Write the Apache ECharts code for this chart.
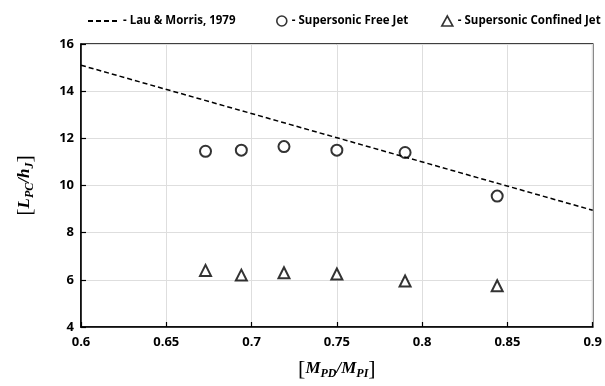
<!DOCTYPE html>
<html>
<head>
<meta charset="utf-8">
<script src="https://cdn.jsdelivr.net/npm/echarts@6/dist/echarts.min.js"></script>
<style>
html, body { margin: 0; padding: 0; background: #fff; }
#main { width: 605px; height: 386px; }
</style>
</head>
<body>
<div id="main"></div>
<script>
// data
var freeJetX = [0.673, 0.694, 0.719, 0.750, 0.790, 0.844];
var freeJetY = [11.45, 11.5, 11.65, 11.5, 11.4, 9.55];
var confinedX = [0.673, 0.694, 0.719, 0.750, 0.790, 0.844];
var confinedY = [6.4, 6.2, 6.3, 6.25, 5.95, 5.75];
var lauMorrisX = [0.6, 0.9];
var lauMorrisY = [15.1, 8.95];

function pairs(xs, ys) {
	return xs.map(function (x, i) { return [x, ys[i]]; });
}

var font = 'Open Sans';
var serif = 'Liberation Serif';

var nameRich = {
	br: { fontFamily: serif, fontSize: 22, color: '#000' },
	v: { fontFamily: serif, fontSize: 17, fontWeight: 'bold', fontStyle: 'italic', color: '#000' },
	s: { fontFamily: serif, fontSize: 12, fontWeight: 'bold', fontStyle: 'italic', color: '#000', padding: [10, 0, 0, 0] }
};

var legendText = { fontFamily: font, fontWeight: 'bold', fontSize: 11.5, color: '#000' };

var myChart = echarts.init(document.getElementById('main'));

var option = {
	animation: false,
	textStyle: { fontFamily: font },
	grid: { left: 81, right: 7, top: 44, bottom: 59, show: true, borderColor: '#000', borderWidth: 1.5 },
	legend: [
		{
			left: 82, top: 10, itemWidth: 30, itemHeight: 8, itemGap: 5,
			textStyle: legendText,
			itemStyle: { opacity: 0 },
			data: ['- Lau & Morris, 1979']
		},
		{
			left: 271, top: 10, itemWidth: 10, itemHeight: 10, itemGap: 4,
			textStyle: legendText,
			itemStyle: { borderWidth: 1.6 },
			data: ['- Supersonic Free Jet']
		},
		{
			left: 436, top: 10, itemWidth: 11, itemHeight: 10, itemGap: 4,
			textStyle: legendText,
			itemStyle: { borderWidth: 1.6 },
			data: ['- Supersonic Confined Jet']
		}
	],
	xAxis: {
		type: 'value',
		min: 0.6,
		max: 0.9,
		interval: 0.05,
		axisLine: { onZero: false, lineStyle: { color: '#000', width: 1.5 } },
		axisTick: { show: true, inside: true, length: 5, lineStyle: { color: '#000', width: 1.2 } },
		axisLabel: { color: '#000', fontWeight: 'bold', fontSize: 13, margin: 9, fontFamily: font },
		splitLine: { show: true, lineStyle: { color: '#dedede', width: 1 } },
		name: '{br|[}{v|M}{s|PD}{v|/M}{s|PI}{br|]}',
		nameLocation: 'middle',
		nameGap: 31,
		nameTextStyle: { rich: nameRich }
	},
	yAxis: {
		type: 'value',
		min: 4,
		max: 16,
		interval: 2,
		axisLine: { show: true, onZero: false, lineStyle: { color: '#000', width: 1.5 } },
		axisTick: { show: true, inside: true, length: 5, lineStyle: { color: '#000', width: 1.2 } },
		axisLabel: { color: '#000', fontWeight: 'bold', fontSize: 13, margin: 7, fontFamily: font },
		splitLine: { show: true, lineStyle: { color: '#dedede', width: 1 } },
		name: '{br|[}{v|L}{s|PC}{v|/h}{s|J}{br|]}',
		nameLocation: 'middle',
		nameGap: 45,
		nameTextStyle: { rich: nameRich }
	},
	series: [
		{
			name: '- Lau & Morris, 1979',
			type: 'line',
			data: pairs(lauMorrisX, lauMorrisY),
			showSymbol: false,
			symbol: 'none',
			lineStyle: { color: '#000', width: 1.5, type: [5, 3] },
			itemStyle: { color: '#000' }
		},
		{
			name: '- Supersonic Free Jet',
			type: 'scatter',
			data: pairs(freeJetX, freeJetY),
			symbol: 'circle',
			symbolSize: 11,
			itemStyle: { color: '#fff', borderColor: '#000', borderWidth: 2 }
		},
		{
			name: '- Supersonic Confined Jet',
			type: 'scatter',
			data: pairs(confinedX, confinedY),
			symbol: 'triangle',
			symbolSize: 11,
			itemStyle: { color: '#fff', borderColor: '#000', borderWidth: 2 }
		}
	]
};

myChart.setOption(option);
</script>
</body>
</html>
